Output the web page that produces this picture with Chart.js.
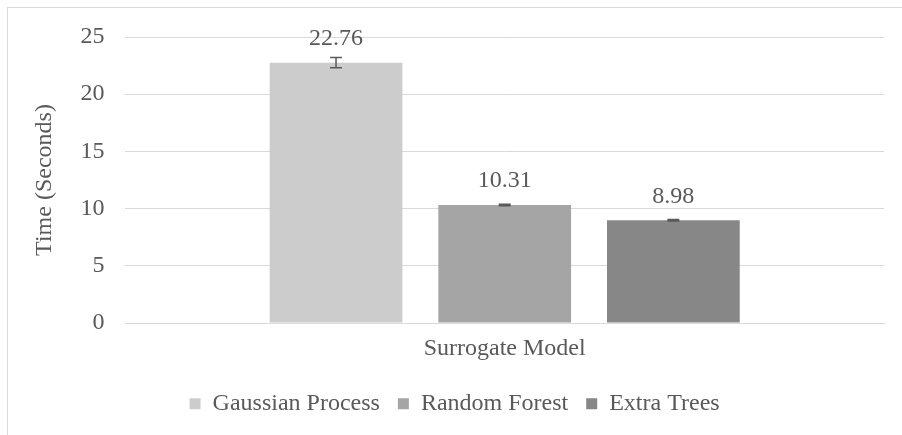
<!DOCTYPE html>
<html>
<head>
<meta charset="utf-8">
<script src="https://cdn.jsdelivr.net/npm/chart.js@4"></script>
<style>
  html, body { margin: 0; padding: 0; background: #fff; overflow: hidden; }
  #wrap { position: relative; width: 902px; height: 435px; }
  #frame { position: absolute; left: 7px; top: 7px; width: 2000px; height: 2000px; border: 1px solid #d9d9d9; }
  #timeChart { position: absolute; left: 0; top: 0; }
</style>
</head>
<body>
<div id="wrap">
  <div id="frame"></div>
  <canvas id="timeChart" width="902" height="435"></canvas>
</div>
<script>
// Chart data
const categories = ["Surrogate Model"];
const seriesNames = ["Gaussian Process", "Random Forest", "Extra Trees"];
const times = [22.76, 10.31, 8.98];
const timeErrors = [0.45, 0.06, 0.06];
const yTicks = [0, 5, 10, 15, 20, 25];

const barColors = ["#cccccc", "#a5a5a5", "#878787"];
const textColor = "#595959";
const gridColor = "#d9d9d9";
const serif = "'Liberation Serif', 'Times New Roman', serif";

// error bars + value labels drawn through the y scale
const barExtras = {
  id: "barExtras",
  afterDatasetsDraw(chart) {
    const ctx = chart.ctx;
    const y = chart.scales.y;
    ctx.save();
    chart.data.datasets.forEach((ds, i) => {
      const bar = chart.getDatasetMeta(i).data[0];
      if (!bar) return;
      const v = ds.data[0];
      const e = timeErrors[i];
      const yHi = y.getPixelForValue(v + e);
      const yLo = y.getPixelForValue(v - e);
      ctx.strokeStyle = "#595959";
      ctx.lineWidth = 1.5;
      ctx.beginPath();
      ctx.moveTo(bar.x, yHi);
      ctx.lineTo(bar.x, yLo);
      ctx.moveTo(bar.x - 6, yHi);
      ctx.lineTo(bar.x + 6, yHi);
      ctx.moveTo(bar.x - 6, yLo);
      ctx.lineTo(bar.x + 6, yLo);
      ctx.stroke();

      ctx.fillStyle = textColor;
      ctx.font = "24px " + serif;
      ctx.textAlign = "center";
      ctx.textBaseline = "middle";
      ctx.fillText(v.toFixed(2), bar.x, bar.y - 24);
    });
    ctx.restore();
  },
};

new Chart(document.getElementById("timeChart"), {
  type: "bar",
  data: {
    labels: categories,
    datasets: seriesNames.map((name, i) => ({
      label: name,
      data: [times[i]],
      backgroundColor: barColors[i],
      borderWidth: 0,
      categoryPercentage: 0.667,
      barPercentage: 0.787,
    })),
  },
  options: {
    responsive: false,
    animation: false,
    layout: { padding: { left: 25.2, right: 18, top: 37, bottom: 9.2 } },
    font: { family: serif, size: 24 },
    color: textColor,
    scales: {
      x: {
        grid: { display: false, drawTicks: false },
        border: { color: gridColor, width: 1 },
        ticks: { color: textColor, font: { family: serif, size: 24 }, padding: 11 },
      },
      y: {
        min: 0,
        max: 25,
        afterBuildTicks: (s) => { s.ticks = yTicks.map((v) => ({ value: v })); },
        grid: { color: gridColor, lineWidth: 1, drawTicks: false },
        border: { display: false },
        ticks: { color: textColor, font: { family: serif, size: 24 }, padding: 21 },
        title: {
          display: true,
          text: "Time (Seconds)",
          color: textColor,
          font: { family: serif, size: 24 },
          padding: { top: 5.4, bottom: 0 },
        },
      },
    },
    plugins: {
      legend: {
        position: "bottom",
        labels: {
          boxWidth: 11,
          boxHeight: 11,
          padding: 18,
          color: textColor,
          font: { family: serif, size: 24 },
        },
      },
      tooltip: { enabled: false },
    },
  },
  plugins: [barExtras],
});
</script>
</body>
</html>
